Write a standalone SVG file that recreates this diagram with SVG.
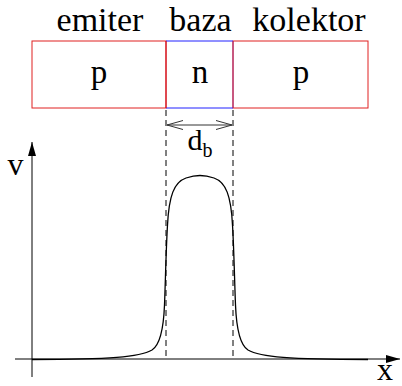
<svg xmlns="http://www.w3.org/2000/svg" width="402" height="386" viewBox="0 0 402 386">
<style>
.lbl{font-family:'Liberation Serif',serif;fill:#000;text-anchor:middle}
.ax{stroke:#000;stroke-width:1;fill:none}
.dash{stroke:#000;stroke-width:1;stroke-dasharray:6,4;fill:none}
</style>
<defs>
<marker id="ah" viewBox="0 0 14 8" refX="14" refY="4" markerWidth="14" markerHeight="8" markerUnits="userSpaceOnUse" orient="auto">
<path d="M0,0 L14,4 L0,8 Z" fill="#000"/>
</marker>
<marker id="oa" viewBox="0 0 16 10" refX="16" refY="5" markerWidth="16" markerHeight="10" markerUnits="userSpaceOnUse" orient="auto-start-reverse">
<path d="M0,0.5 L16,5 L0,9.5" fill="none" stroke="#333" stroke-width="1"/>
</marker>
</defs>
<g id="labels">
<text class="lbl" x="100" y="31" font-size="34" style="font-family:'Liberation Serif',serif">emiter</text>
<text class="lbl" x="200.5" y="31" font-size="34" style="font-family:'Liberation Serif',serif">baza</text>
<text class="lbl" x="309" y="31" font-size="34" style="font-family:'Liberation Serif',serif">kolektor</text>
</g>
<g id="emiter">
<rect x="32" y="41" width="134" height="67" fill="none" stroke="#e02020" stroke-width="1"/>
<text class="lbl" x="99" y="83" font-size="33" style="font-family:'Liberation Serif',serif">p</text>
</g>
<g id="kolektor">
<rect x="233" y="41" width="135" height="67" fill="none" stroke="#e02020" stroke-width="1"/>
<text class="lbl" x="301" y="83" font-size="33" style="font-family:'Liberation Serif',serif">p</text>
</g>
<g id="baza">
<line x1="166" y1="41" x2="233" y2="41" stroke="#2020ff" stroke-width="1"/>
<line x1="166" y1="108" x2="233" y2="108" stroke="#2020ff" stroke-width="1"/>
<line x1="166" y1="41" x2="166" y2="108" stroke="#d00010" stroke-width="1"/>
<line x1="233" y1="41" x2="233" y2="108" stroke="#a02070" stroke-width="1"/>
<text class="lbl" x="200" y="83" font-size="33" style="font-family:'Liberation Serif',serif">n</text>
</g>
<g id="connectors">
<line class="dash" x1="166" y1="110" x2="166" y2="359"/>
<line class="dash" x1="233" y1="110" x2="233" y2="359"/>
<line x1="167" y1="125" x2="232" y2="125" stroke="#333" stroke-width="1" marker-start="url(#oa)" marker-end="url(#oa)"/>
<line class="ax" x1="32" y1="377" x2="32" y2="142" marker-end="url(#ah)"/>
<line class="ax" x1="15" y1="359" x2="400" y2="359" marker-end="url(#ah)"/>
<path d="M32,359.5 C110,359.5 140,357 152,350 C160,345 163.5,330 164.5,305 C165.5,280 166,250 167.5,225 C169,196 174,182 186,178 C192,176 196,175.5 200,175.5 C204,175.5 208,176 214,178 C226,182 231,196 232.5,225 C234,250 234.5,280 235.5,305 C236.5,330 240,345 248,350 C260,357 290,359.5 368,359.5" fill="none" stroke="#000" stroke-width="1.3"/>
</g>
<g id="axis-labels">
<text class="lbl" x="200" y="150" font-size="30" style="font-family:'Liberation Serif',serif">d<tspan font-size="20" dy="7">b</tspan></text>
<text class="lbl" x="15.5" y="175" font-size="32" style="font-family:'Liberation Serif',serif">v</text>
<text class="lbl" x="385" y="380" font-size="32" style="font-family:'Liberation Serif',serif">x</text>
</g>
</svg>
